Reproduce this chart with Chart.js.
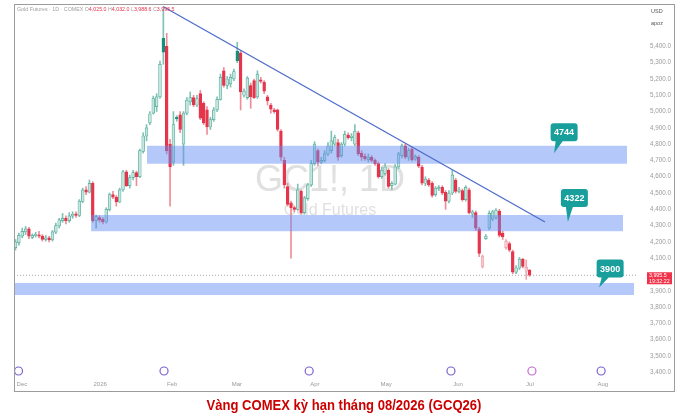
<!DOCTYPE html>
<html>
<head>
<meta charset="utf-8">
<script src="https://cdn.jsdelivr.net/npm/chart.js@4.4.1/dist/chart.umd.min.js"></script>
<style>
  html, body { margin: 0; padding: 0; background: #fff; }
</style>
</head>
<body>
<canvas id="chart" width="689" height="417"></canvas>
<script>
// Daily bars, index 0 = late Nov 2025, last bar = 1 Jul 2026
const opens = [
  4165,4195,4235,4262,4280,4228,4240,4244,4236,4215,4225,4212,4260,4298,4330,4345,4330,4358,4372,4362,
  4448,4520,4505,4560,4330,4350,4338,4322,4400,4490,4475,4445,4520,4630,4545,4595,4625,4600,4755,4850,
  4930,4990,5030,5090,5450,5400,4800,4690,4965,4980,4800,4990,5060,5085,5040,5110,5050,5010,4905,4950,
  5010,5075,5250,5160,5170,5200,5370,5360,5100,5085,5160,5190,5090,5195,5180,5090,5040,5010,5010,4880,
  4700,4540,4440,4410,4400,4510,4380,4465,4550,4680,4760,4690,4700,4740,4760,4800,4810,4730,4800,4855,
  4840,4800,4870,4745,4725,4705,4720,4700,4680,4600,4620,4640,4545,4555,4660,4730,4790,4720,4770,4710,
  4720,4660,4560,4580,4560,4490,4525,4535,4505,4450,4500,4580,4510,4515,4460,4520,4370,4380,4280,4050,
  4220,4285,4340,4350,4390,4255,4165,4190,4140,4015,4040,4095,4020,4025
];
const highs = [
  4215,4255,4285,4295,4290,4250,4260,4265,4245,4240,4235,4270,4315,4345,4375,4360,4380,4385,4385,4460,
  4530,4540,4580,4570,4365,4360,4350,4410,4500,4510,4485,4530,4640,4640,4610,4640,4635,4770,4870,4920,
  5000,5095,5110,5310,5630,5480,4830,5000,4975,5000,5000,5085,5120,5100,5100,5130,5060,5030,4965,5025,
  5090,5230,5270,5215,5230,5260,5425,5375,5140,5215,5175,5200,5250,5210,5190,5100,5050,5020,5015,4890,
  4720,4560,4450,4420,4555,4520,4480,4560,4700,4815,4770,4720,4760,4810,4880,4855,4830,4810,4880,4870,
  4865,4920,4880,4760,4740,4740,4730,4710,4690,4660,4680,4650,4570,4675,4750,4800,4800,4775,4785,4735,
  4730,4670,4600,4590,4570,4540,4545,4545,4515,4515,4640,4590,4535,4525,4545,4530,4395,4390,4290,4120,
  4245,4390,4395,4405,4400,4265,4215,4200,4150,4055,4105,4100,4090,4032
];
const lows = [
  4150,4180,4225,4245,4220,4220,4230,4225,4205,4205,4200,4205,4250,4285,4320,4310,4320,4345,4350,4355,
  4440,4490,4500,4320,4285,4320,4310,4315,4390,4465,4420,4440,4510,4540,4530,4580,4545,4595,4745,4820,
  4920,4985,5000,5080,5290,4740,4420,4670,4940,4870,4670,4980,5040,5030,5030,4950,4920,4860,4890,4940,
  5000,5070,5150,5140,5150,5190,5300,5010,5090,5075,5020,5080,5080,5175,5110,5040,4990,4990,4880,4700,
  4530,4420,4100,4385,4395,4370,4370,4455,4540,4670,4670,4680,4690,4730,4745,4790,4700,4720,4790,4830,
  4820,4790,4730,4700,4700,4690,4690,4670,4590,4590,4610,4530,4520,4550,4650,4715,4710,4700,4695,4700,
  4655,4550,4545,4540,4475,4480,4515,4490,4400,4440,4490,4500,4500,4450,4450,4370,4350,4270,4110,4040,
  4215,4275,4330,4340,4230,4215,4155,4140,4005,4005,4030,4040,3970,3988.6
];
const closes = [
  4200,4240,4265,4280,4235,4240,4244,4236,4215,4225,4212,4262,4300,4335,4345,4330,4360,4370,4362,4450,
  4520,4505,4560,4330,4355,4335,4322,4400,4490,4475,4445,4520,4630,4545,4595,4625,4600,4760,4850,4900,
  4985,5080,5090,5290,5365,4760,4660,4920,4955,4890,4990,5070,5085,5040,5080,4960,4930,4905,4950,5010,
  5075,5210,5160,5200,5210,5245,5310,5120,5125,5205,5090,5085,5230,5185,5125,5065,5015,5000,4890,4720,
  4550,4430,4410,4400,4520,4380,4470,4550,4680,4800,4690,4700,4740,4790,4820,4840,4720,4800,4860,4840,
  4850,4880,4740,4720,4710,4720,4700,4680,4600,4640,4660,4540,4560,4660,4740,4790,4720,4760,4705,4725,
  4665,4560,4585,4550,4485,4530,4535,4500,4450,4500,4610,4510,4520,4460,4535,4380,4385,4285,4130,4110,
  4235,4375,4385,4395,4240,4230,4205,4150,4015,4040,4095,4050,4045,3995.5
];

// time axis (bar index positions of month starts)
const monthTickPos = [1.9, 25.2, 46.6, 65.9, 89.1, 110.3, 131.7, 153.1, 174.8];
const monthTickLabels = ['Dec', '2026', 'Feb', 'Mar', 'Apr', 'May', 'Jun', 'Jul', 'Aug'];
const priceTicks = [3400, 3500, 3600, 3700, 3800, 3900, 4100, 4200, 4300, 4400, 4500,
  4600, 4700, 4800, 4900, 5000, 5100, 5200, 5300, 5400];

// drawn zones and their labels
const zoneNames = ['4744', '4322', '3900'];
const zoneLow = [4680, 4265, 3875];
const zoneHigh = [4790, 4365, 3948];
const zoneStart = [39.1, 22.5, -0.45];
const zoneEnd = [182.0, 180.8, 184.1];
const calloutBar = [160.3, 164.4, 173.7];
const calloutPrice = [4744, 4322, 3920];

const trendX = [43.9, 157.6];
const trendY = [5645, 4322];

const eventX = [0.9, 44.2, 87.4, 129.6, 153.7, 174.3];
const eventLevel = 3408;

const lastPrice = 3995.5;
const xMin = -0.45, xMax = 185.27;

// hollow-candle colouring
const wickCol = [], fillCol = [], edgeCol = [];
closes.forEach((c, i) => {
  const prev = i > 0 ? closes[i - 1] : opens[i];
  const up = c >= prev;
  const hollow = c > opens[i];
  if (up && hollow) { fillCol.push('#c4e6df'); edgeCol.push('#52a999'); wickCol.push('#7fc2b6'); }
  else if (up) { fillCol.push('#15907a'); edgeCol.push('#15907a'); wickCol.push('#7fc2b6'); }
  else if (hollow) { fillCol.push('#f6cbd1'); edgeCol.push('#ec95a1'); wickCol.push('#f0a5ae'); }
  else { fillCol.push('#e5344b'); edgeCol.push('#e5344b'); wickCol.push('#ee8d99'); }
});

const datasets = [
  {
    type: 'bar', label: 'wicks', order: 3, grouped: false,
    data: closes.map((c, i) => ({ x: i, y: [lows[i], highs[i]] })),
    backgroundColor: wickCol, barThickness: 1, minBarLength: 1
  },
  {
    type: 'bar', label: 'bodies', order: 2, grouped: false,
    data: closes.map((c, i) => ({ x: i, y: [opens[i], c] })),
    backgroundColor: fillCol, borderColor: edgeCol, borderWidth: 0.7,
    borderSkipped: false, barThickness: 2.8, minBarLength: 1
  },
  {
    type: 'line', label: 'last', order: 4,
    data: [{ x: xMin, y: lastPrice }, { x: xMax, y: lastPrice }],
    borderColor: '#a8a8a8', borderWidth: 1, borderDash: [1, 2], pointRadius: 0
  },
  {
    type: 'line', label: 'trend', order: 0,
    data: trendX.map((x, i) => ({ x: x, y: trendY[i] })),
    borderColor: '#4d6ccc', borderWidth: 1.3, pointRadius: 0
  },
  {
    type: 'line', label: 'events', order: 0, showLine: false,
    data: eventX.map(x => ({ x: x, y: eventLevel })),
    pointRadius: 4, pointBorderWidth: 1.2, pointBackgroundColor: '#fff',
    pointBorderColor: eventX.map((x, i) => i === 4 ? '#c26bd1' : '#7c62cf')
  }
];
zoneNames.forEach((n, i) => {
  datasets.push({
    type: 'line', label: 'zone ' + n + ' top', order: 1,
    data: [{ x: zoneStart[i], y: zoneHigh[i] }, { x: zoneEnd[i], y: zoneHigh[i] }],
    borderWidth: 0, pointRadius: 0, fill: false
  });
  datasets.push({
    type: 'line', label: 'zone ' + n, order: 1,
    data: [{ x: zoneStart[i], y: zoneLow[i] }, { x: zoneEnd[i], y: zoneLow[i] }],
    borderWidth: 0, pointRadius: 0, fill: '-1', backgroundColor: 'rgba(100,140,245,0.48)'
  });
});

const FONT = '"Liberation Sans", Arial, sans-serif';

const decor = {
  id: 'decor',
  beforeDatasetsDraw(chart) {
    const ctx = chart.ctx;
    ctx.save();
    ctx.fillStyle = '#e0e0e0';
    ctx.textAlign = 'center';
    ctx.textBaseline = 'middle';
    ctx.font = '36px ' + FONT;
    ctx.fillText('GC1!, 1D', 330, 181);
    ctx.font = '16px ' + FONT;
    ctx.fillText('Gold Futures', 330, 211);
    ctx.restore();
  },
  afterDraw(chart) {
    const ctx = chart.ctx;
    const xs = chart.scales.x, ys = chart.scales.y;
    const a = chart.chartArea;
    ctx.save();
    // frame
    ctx.strokeStyle = '#9c9c9c';
    ctx.lineWidth = 1;
    ctx.strokeRect(a.left + 0.5, a.top + 0.5, ys.right - a.left, xs.bottom - a.top);

    // header line
    ctx.font = '5.3px ' + FONT;
    ctx.textBaseline = 'middle';
    ctx.textAlign = 'left';
    const parts = [['Gold Futures · 1D · COMEX ', '#a0a0a0'], ['O', '#a0a0a0'], ['4,025.0 ', '#e5344b'],
      ['H', '#a0a0a0'], ['4,032.0 ', '#e5344b'], ['L', '#a0a0a0'], ['3,988.6 ', '#e5344b'],
      ['C', '#a0a0a0'], ['3,995.5', '#e5344b']];
    let hx = 17;
    parts.forEach(p => { ctx.fillStyle = p[1]; ctx.fillText(p[0], hx, 10); hx += ctx.measureText(p[0]).width; });

    // currency label
    ctx.fillStyle = '#555';
    ctx.font = '5.5px ' + FONT;
    ctx.fillText('USD', 651, 11);
    ctx.fillText('apoz', 651, 23);

    // last price label on axis
    const py = ys.getPixelForValue(lastPrice);
    ctx.fillStyle = '#f0334a';
    ctx.fillRect(647, py - 3, 25, 12);
    ctx.fillStyle = '#fff';
    ctx.font = '5.3px ' + FONT;
    ctx.fillText('3,995.5', 649, py + 0.5);
    ctx.fillText('19:32:22', 649, py + 6);

    // callouts
    const offs = [[10, -21], [6.5, -24], [11, -19]];
    zoneNames.forEach((n, i) => {
      const tx = xs.getPixelForValue(calloutBar[i]);
      const ty = ys.getPixelForValue(calloutPrice[i]);
      const cx = tx + offs[i][0], cy = ty + offs[i][1];
      const w = 27, h = 18, r = 3;
      const l = cx - w / 2, t = cy - h / 2;
      ctx.fillStyle = '#189f9c';
      ctx.beginPath();
      ctx.moveTo(l + r, t);
      ctx.lineTo(l + w - r, t);
      ctx.quadraticCurveTo(l + w, t, l + w, t + r);
      ctx.lineTo(l + w, t + h - r);
      ctx.quadraticCurveTo(l + w, t + h, l + w - r, t + h);
      ctx.lineTo(l + 12, t + h);
      ctx.lineTo(tx, ty);
      ctx.lineTo(l + 5, t + h);
      ctx.lineTo(l + r, t + h);
      ctx.quadraticCurveTo(l, t + h, l, t + h - r);
      ctx.lineTo(l, t + r);
      ctx.quadraticCurveTo(l, t, l + r, t);
      ctx.closePath();
      ctx.fill();
      ctx.fillStyle = '#fff';
      ctx.font = 'bold 9px ' + FONT;
      ctx.textAlign = 'center';
      ctx.fillText(n, cx, cy + 0.5);
      ctx.textAlign = 'left';
    });

    // caption under the chart
    ctx.save();
    ctx.translate(344, 406);
    ctx.scale(0.87, 1);
    ctx.fillStyle = '#cc0000';
    ctx.font = 'bold 15px ' + FONT;
    ctx.textAlign = 'center';
    ctx.textBaseline = 'middle';
    ctx.fillText('Vàng COMEX kỳ hạn tháng 08/2026 (GCQ26)', 0, 0);
    ctx.restore();
    ctx.restore();
  }
};

new Chart(document.getElementById('chart'), {
  type: 'bar',
  data: { datasets: datasets },
  options: {
    responsive: false,
    animation: false,
    devicePixelRatio: 1,
    layout: { autoPadding: false, padding: { left: 14, top: 4, right: 15, bottom: 26 } },
    plugins: {
      legend: { display: false },
      tooltip: { enabled: false }
    },
    scales: {
      x: {
        type: 'linear', min: xMin, max: xMax, offset: false,
        grid: { display: false, drawTicks: false }, border: { display: false },
        afterBuildTicks: s => { s.ticks = monthTickPos.map(v => ({ value: v })); },
        afterFit: s => { s.height = 13; s.paddingLeft = 0; s.paddingRight = 0; },
        ticks: {
          autoSkip: false, maxRotation: 0, padding: 3, color: '#9a9a9a',
          font: { family: FONT, size: 6 },
          callback: (v, i) => monthTickLabels[i]
        }
      },
      y: {
        type: 'linear', position: 'right', min: 3365, max: 5660,
        grid: { display: false, drawTicks: false }, border: { display: false },
        afterBuildTicks: s => { s.ticks = priceTicks.map(v => ({ value: v })); },
        afterFit: s => { s.width = 36; s.paddingTop = 0; s.paddingBottom = 0; },
        ticks: {
          padding: 12, color: '#9a9a9a',
          font: { family: FONT, size: 6.3 },
          callback: v => v.toLocaleString('en-US', { minimumFractionDigits: 1 })
        }
      }
    }
  },
  plugins: [decor]
});
</script>
</body>
</html>
